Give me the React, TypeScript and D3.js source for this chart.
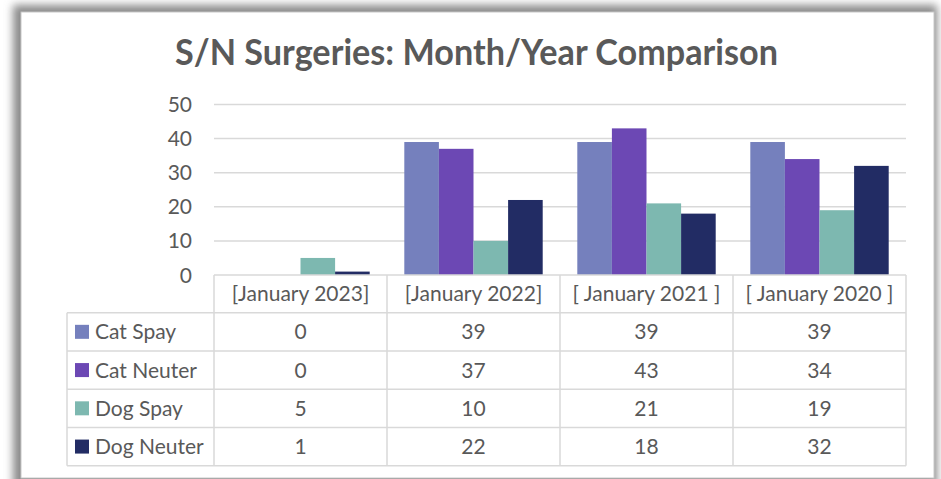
import React from "react";
import * as d3 from "d3";

const categories = ["[January 2023]", "[January 2022]", "[ January 2021 ]", "[ January 2020 ]"];
const seriesNames = ["Cat Spay", "Cat Neuter", "Dog Spay", "Dog Neuter"];
const catSpay = [0, 39, 39, 39];
const catNeuter = [0, 37, 43, 34];
const dogSpay = [5, 10, 21, 19];
const dogNeuter = [1, 22, 18, 32];
const seriesValues = [catSpay, catNeuter, dogSpay, dogNeuter];
const colors = ["#7580BD", "#6C48B4", "#7DB8B0", "#222C64"];
const yTicks = [0, 10, 20, 30, 40, 50];
const title = "S/N Surgeries: Month/Year Comparison";

const W = 941, H = 479;
const plotLeft = 214, plotRight = 906, plotTop = 104.5, plotBottom = 275;
const tableLeft = 67;
const headerBottom = 312.7;
const rowH = 38.25;

export default function App() {
  const x = d3.scaleBand<string>().domain(categories).range([plotLeft, plotRight]).padding(0);
  const bw = x.bandwidth();
  const x1 = d3.scaleBand<string>().domain(seriesNames).range([bw * 0.1, bw * 0.9]).padding(0);
  const y = d3.scaleLinear().domain([0, 50]).range([plotBottom, plotTop]);
  const font = "Lato, 'Open Sans', sans-serif";
  const gridColor = "#d9d9d9";
  const textColor = "#595959";
  const rowsY = seriesNames.map((_, i) => headerBottom + i * rowH);
  const tableBottom = headerBottom + seriesNames.length * rowH;

  return (
    <svg width={W} height={H} style={{ position: "absolute", left: 0, top: 0 }} fontFamily={font}>
      <defs>
        <filter id="blur" x="-5%" y="-5%" width="110%" height="110%">
          <feGaussianBlur stdDeviation="4" />
        </filter>
      </defs>
      <rect x={0} y={0} width={W} height={H} fill="#ffffff" />
      <rect x={13} y={5} width={924} height={490} fill="#8a8a8a" filter="url(#blur)" />
      <rect x={21} y={12} width={913} height={466} fill="#ffffff" stroke="#c8c8c8" strokeWidth={1} />

      <text x={476.5} y={65} textAnchor="middle" fontSize={36} fontWeight="bold" fill="#595959"
        textLength={603} lengthAdjust="spacingAndGlyphs" fontFamily="Lato, sans-serif">{title}</text>

      {yTicks.map((t) => (
        <g key={t}>
          {t > 0 && <line x1={plotLeft} x2={plotRight} y1={y(t)} y2={y(t)} stroke={gridColor} strokeWidth={1.5} />}
          <text x={192} y={y(t)} dy="0.36em" textAnchor="end" fontSize={21} fill={textColor}>{t}</text>
        </g>
      ))}

      {categories.map((c, ci) => (
        <g key={c}>
          {seriesNames.map((s, si) => {
            const v = seriesValues[si][ci];
            return (
              <rect key={s} x={(x(c) as number) + (x1(s) as number)} y={y(v)} width={x1.bandwidth()}
                height={plotBottom - y(v)} fill={colors[si]} />
            );
          })}
        </g>
      ))}

      {/* table grid */}
      <line x1={plotLeft} x2={plotRight} y1={plotBottom} y2={plotBottom} stroke={gridColor} strokeWidth={1.5} />
      {rowsY.map((ry, i) => (
        <line key={i} x1={tableLeft} x2={plotRight} y1={ry} y2={ry} stroke={gridColor} strokeWidth={1.5} />
      ))}
      <line x1={tableLeft} x2={plotRight} y1={tableBottom} y2={tableBottom} stroke={gridColor} strokeWidth={1.5} />
      <line x1={tableLeft} x2={tableLeft} y1={headerBottom} y2={tableBottom} stroke={gridColor} strokeWidth={1.5} />
      {categories.map((c) => (
        <line key={c} x1={x(c)} x2={x(c)} y1={plotBottom} y2={tableBottom} stroke={gridColor} strokeWidth={1.5} />
      ))}
      <line x1={plotRight} x2={plotRight} y1={plotBottom} y2={tableBottom} stroke={gridColor} strokeWidth={1.5} />

      {categories.map((c) => (
        <text key={c} x={(x(c) as number) + bw / 2} y={(plotBottom + headerBottom) / 2} dy="0.36em"
          textAnchor="middle" fontSize={21} fill={textColor}>{c}</text>
      ))}

      {seriesNames.map((s, si) => (
        <g key={s}>
          <rect x={75} y={rowsY[si] + rowH / 2 - 7} width={14} height={14} fill={colors[si]} />
          <text x={95} y={rowsY[si] + rowH / 2} dy="0.36em" fontSize={21} fill={textColor}>{s}</text>
          {categories.map((c, ci) => (
            <text key={c} x={(x(c) as number) + bw / 2} y={rowsY[si] + rowH / 2} dy="0.36em"
              textAnchor="middle" fontSize={21} fill={textColor}>{seriesValues[si][ci]}</text>
          ))}
        </g>
      ))}
    </svg>
  );
}
